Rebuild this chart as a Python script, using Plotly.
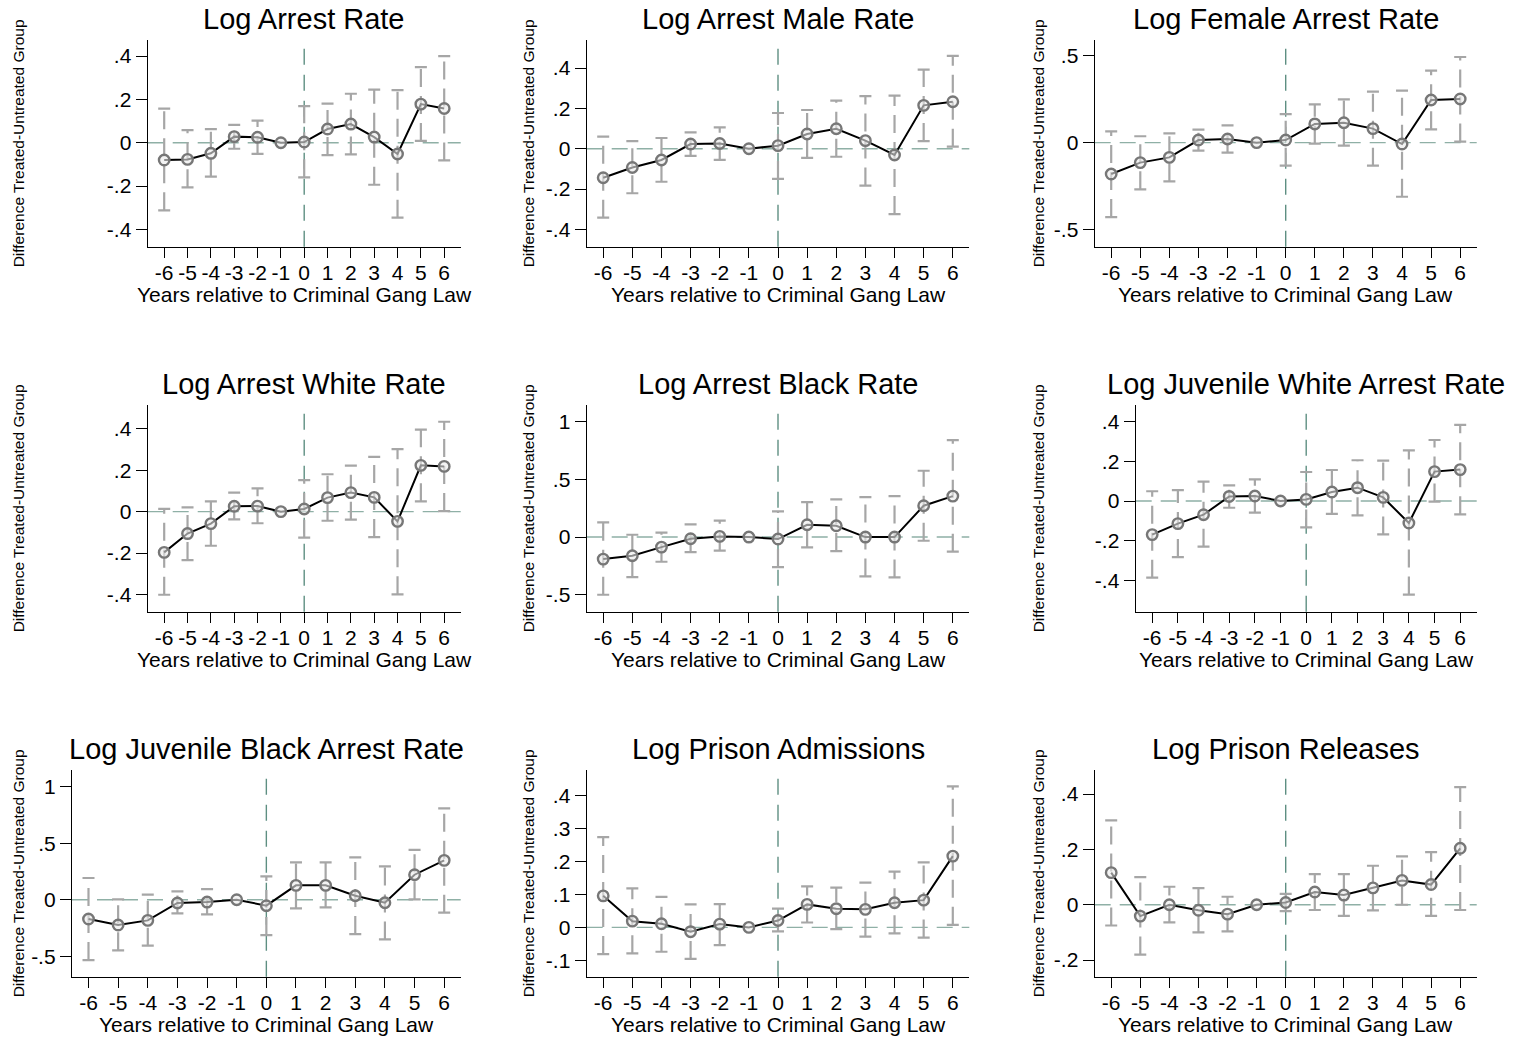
import plotly.graph_objects as go

# ---------------- data ----------------
years = [-6, -5, -4, -3, -2, -1, 0, 1, 2, 3, 4, 5, 6]

titles = ["Log Arrest Rate", "Log Arrest Male Rate", "Log Female Arrest Rate",
          "Log Arrest White Rate", "Log Arrest Black Rate", "Log Juvenile White Arrest Rate",
          "Log Juvenile Black Arrest Rate", "Log Prison Admissions", "Log Prison Releases"]

x_title = "Years relative to Criminal Gang Law"
y_title = "Difference Treated-Untreated Group"

arrest_est = [-0.080, -0.077, -0.049, 0.028, 0.025, 0.0, 0.003, 0.063, 0.086, 0.026, -0.052, 0.178, 0.158]
arrest_lo = [-0.312, -0.206, -0.157, -0.028, -0.052, None, -0.160, -0.057, -0.054, -0.194, -0.346, 0.008, -0.082]
arrest_hi = [0.157, 0.058, 0.063, 0.082, 0.102, None, 0.169, 0.180, 0.226, 0.245, 0.243, 0.349, 0.400]

male_est = [-0.144, -0.093, -0.056, 0.023, 0.026, 0.0, 0.015, 0.073, 0.099, 0.040, -0.031, 0.215, 0.233]
male_lo = [-0.342, -0.221, -0.164, -0.036, -0.055, None, -0.150, -0.046, -0.040, -0.183, -0.324, 0.038, 0.010]
male_hi = [0.060, 0.038, 0.053, 0.081, 0.106, None, 0.177, 0.192, 0.238, 0.261, 0.263, 0.392, 0.460]

female_est = [-0.181, -0.115, -0.085, 0.015, 0.021, 0.0, 0.015, 0.108, 0.115, 0.081, -0.008, 0.246, 0.252]
female_lo = [-0.429, -0.269, -0.223, -0.046, -0.058, None, -0.133, -0.006, -0.017, -0.133, -0.312, 0.077, 0.006]
female_hi = [0.065, 0.037, 0.054, 0.075, 0.100, None, 0.165, 0.221, 0.250, 0.294, 0.300, 0.415, 0.494]

white_est = [-0.197, -0.106, -0.058, 0.026, 0.027, 0.0, 0.013, 0.068, 0.092, 0.069, -0.047, 0.224, 0.219]
white_lo = [-0.402, -0.234, -0.165, -0.037, -0.056, None, -0.126, -0.044, -0.039, -0.123, -0.400, 0.050, 0.003]
white_hi = [0.013, 0.021, 0.050, 0.092, 0.113, None, 0.153, 0.181, 0.223, 0.265, 0.303, 0.397, 0.435]

black_est = [-0.191, -0.162, -0.087, -0.014, 0.006, 0.0, -0.017, 0.107, 0.098, 0.000, 0.000, 0.272, 0.355]
black_lo = [-0.500, -0.347, -0.214, -0.130, -0.118, None, -0.260, -0.090, -0.121, -0.341, -0.350, -0.032, -0.127]
black_hi = [0.127, 0.020, 0.038, 0.110, 0.142, None, 0.223, 0.303, 0.327, 0.347, 0.355, 0.575, 0.841]

juv_white_est = [-0.169, -0.114, -0.069, 0.023, 0.025, 0.0, 0.008, 0.045, 0.067, 0.018, -0.111, 0.148, 0.158]
juv_white_lo = [-0.386, -0.282, -0.230, -0.034, -0.059, None, -0.133, -0.065, -0.072, -0.168, -0.471, -0.003, -0.067]
juv_white_hi = [0.049, 0.055, 0.097, 0.079, 0.109, None, 0.146, 0.156, 0.205, 0.203, 0.255, 0.307, 0.383]

juv_black_est = [-0.171, -0.224, -0.183, -0.029, -0.021, 0.0, -0.053, 0.127, 0.127, 0.035, -0.027, 0.221, 0.348]
juv_black_lo = [-0.534, -0.448, -0.407, -0.121, -0.130, None, -0.313, -0.077, -0.068, -0.304, -0.351, 0.003, -0.115]
juv_black_hi = [0.192, 0.003, 0.044, 0.074, 0.094, None, 0.206, 0.330, 0.330, 0.375, 0.295, 0.440, 0.808]

admit_est = [0.096, 0.019, 0.011, -0.013, 0.010, 0.0, 0.021, 0.070, 0.057, 0.055, 0.075, 0.083, 0.217]
admit_lo = [-0.081, -0.079, -0.074, -0.096, -0.054, None, -0.012, 0.015, -0.005, -0.028, -0.018, -0.031, 0.008]
admit_hi = [0.275, 0.119, 0.093, 0.070, 0.071, None, 0.057, 0.125, 0.121, 0.136, 0.170, 0.198, 0.429]

release_est = [0.116, -0.041, 0.000, -0.020, -0.034, 0.0, 0.008, 0.046, 0.035, 0.061, 0.088, 0.073, 0.204]
release_lo = [-0.075, -0.180, -0.064, -0.100, -0.096, None, -0.023, -0.019, -0.040, -0.020, 0.000, -0.040, -0.019]
release_hi = [0.305, 0.100, 0.065, 0.060, 0.029, None, 0.039, 0.111, 0.111, 0.141, 0.175, 0.190, 0.425]

yticks = [
    [-0.4, -0.2, 0, 0.2, 0.4],
    [-0.4, -0.2, 0, 0.2, 0.4],
    [-0.5, 0, 0.5],
    [-0.4, -0.2, 0, 0.2, 0.4],
    [-0.5, 0, 0.5, 1],
    [-0.4, -0.2, 0, 0.2, 0.4],
    [-0.5, 0, 0.5, 1],
    [-0.1, 0, 0.1, 0.2, 0.3, 0.4],
    [-0.2, 0, 0.2, 0.4],
]

series = [
    (arrest_est, arrest_lo, arrest_hi),
    (male_est, male_lo, male_hi),
    (female_est, female_lo, female_hi),
    (white_est, white_lo, white_hi),
    (black_est, black_lo, black_hi),
    (juv_white_est, juv_white_lo, juv_white_hi),
    (juv_black_est, juv_black_lo, juv_black_hi),
    (admit_est, admit_lo, admit_hi),
    (release_est, release_lo, release_hi),
]

# ---------------- layout (pixels) ----------------
W, H = 1523, 1040
boxes = [  # left, top, right, bottom of each plot area
    (147.7, 40, 460.7, 246.7), (586.7, 40, 969.3, 246.7), (1094.7, 40, 1476.7, 246.7),
    (147.7, 405, 460.7, 611.7), (586.7, 405, 969.3, 611.7), (1135.7, 405, 1476.7, 611.7),
    (72.0, 770, 460.7, 976.7), (586.7, 770, 969.3, 976.7), (1094.7, 770, 1476.7, 976.7),
]
yranges = [
    [-0.48, 0.474], [-0.486, 0.539], [-0.60, 0.592],
    [-0.484, 0.516], [-0.647, 1.145], [-0.557, 0.483],
    [-0.681, 1.147], [-0.15, 0.479], [-0.26, 0.487],
]
ytitle_x = [18, 528, 1038]

FONT = "Liberation Sans, Arial, Helvetica, sans-serif"
CI_COLOR = "#a6a6a6"
MARK_EDGE = "#777777"
REF_V = "#5e8f82"
REF_H = "#8fb0a6"


def fmt(v):
    s = f"{v:g}"
    return s.replace("0.", ".")


fig = go.Figure()
annotations = []
shapes = []

for i, ((est, lo, hi), box) in enumerate(zip(series, boxes)):
    sfx = "" if i == 0 else str(i + 1)
    xa, ya = "x" + sfx, "y" + sfx
    left, top, right, bottom = box
    width_px = right - left
    pad_px = 16.5
    ppu = (width_px - 2 * pad_px) / 12.0
    xr = [years[0] - pad_px / ppu, years[-1] + pad_px / ppu]
    cap = 6.0 / ppu

    # CI dashed lines
    cx, cy = [], []
    kx, ky = [], []
    for xv, l, h in zip(years, lo, hi):
        if l is None or h is None:
            continue
        cx += [xv, xv, None]
        cy += [l, h, None]
        kx += [xv - cap, xv + cap, None, xv - cap, xv + cap, None]
        ky += [l, l, None, h, h, None]
    fig.add_trace(go.Scatter(x=cx, y=cy, mode="lines", xaxis=xa, yaxis=ya,
                             line=dict(color=CI_COLOR, width=2.2, dash="18px,9px"),
                             hoverinfo="skip", showlegend=False))
    fig.add_trace(go.Scatter(x=kx, y=ky, mode="lines", xaxis=xa, yaxis=ya,
                             line=dict(color=CI_COLOR, width=2.2),
                             hoverinfo="skip", showlegend=False))
    # connecting line
    fig.add_trace(go.Scatter(x=years, y=est, mode="lines", xaxis=xa, yaxis=ya,
                             line=dict(color="black", width=2),
                             showlegend=False))
    # markers
    fig.add_trace(go.Scatter(x=years, y=est, mode="markers", xaxis=xa, yaxis=ya,
                             marker=dict(symbol="circle", size=10.5,
                                         color="rgba(235,235,235,0.6)",
                                         line=dict(color=MARK_EDGE, width=2.4)),
                             showlegend=False))

    xdom = [left / W, right / W]
    ydom = [1 - bottom / H, 1 - top / H]
    fig.layout["xaxis" + sfx] = dict(
        domain=xdom, anchor=ya, range=xr, tickmode="array", tickvals=years,
        ticktext=[str(v) for v in years], ticks="outside", ticklen=10, tickwidth=1.3,
        tickcolor="black", showline=True, linecolor="black", linewidth=1.3,
        showgrid=False, zeroline=False, tickfont=dict(size=21, color="black", family=FONT),
        ticklabelstandoff=-3, fixedrange=True)
    fig.layout["yaxis" + sfx] = dict(
        domain=ydom, anchor=xa, range=yranges[i], tickmode="array", tickvals=yticks[i],
        ticktext=[fmt(v) for v in yticks[i]], ticks="outside", ticklen=11, tickwidth=1.3,
        tickcolor="black", showline=True, linecolor="black", linewidth=1.3,
        showgrid=False, zeroline=False, tickfont=dict(size=21, color="black", family=FONT),
        fixedrange=True)

    # reference lines
    shapes.append(dict(type="line", xref=xa + " domain", yref=ya, x0=0, x1=1, y0=0, y1=0,
                       line=dict(color=REF_H, width=1.4, dash="16px,9px"), layer="below"))
    shapes.append(dict(type="line", xref=xa, yref=ya + " domain", x0=0, x1=0, y0=0, y1=1,
                       line=dict(color=REF_V, width=1.4, dash="16px,10px"), layer="below"))

    cxp = (left + right) / 2
    # title
    annotations.append(dict(text=titles[i], x=cxp / W, y=1 - (top - 21) / H, xref="paper",
                            yref="paper", showarrow=False, xanchor="center", yanchor="middle",
                            font=dict(size=29, color="black", family=FONT)))
    # x title
    annotations.append(dict(text=x_title, x=cxp / W, y=1 - (bottom + 48) / H, xref="paper",
                            yref="paper", showarrow=False, xanchor="center", yanchor="middle",
                            font=dict(size=21, color="black", family=FONT)))
    # y title
    annotations.append(dict(text=y_title, x=ytitle_x[i % 3] / W, y=1 - ((top + bottom) / 2) / H,
                            xref="paper", yref="paper", showarrow=False, xanchor="center",
                            yanchor="middle", textangle=-90,
                            font=dict(size=15.5, color="black", family=FONT)))

fig.update_layout(
    width=W, height=H, margin=dict(l=0, r=0, t=0, b=0),
    paper_bgcolor="white", plot_bgcolor="white",
    annotations=annotations, shapes=shapes, showlegend=False,
    font=dict(family=FONT, color="black"),
)

fig.write_html("out.html", include_plotlyjs=True, config={"displayModeBar": False})
